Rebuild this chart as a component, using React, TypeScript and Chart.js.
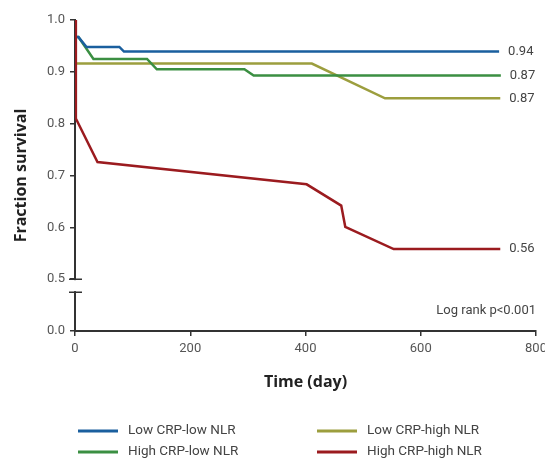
import React, { useEffect, useRef } from 'react';
import { Chart, registerables } from 'chart.js';

Chart.register(...registerables);

const seriesNames = ['Low CRP-low NLR', 'High CRP-low NLR', 'Low CRP-high NLR', 'High CRP-high NLR'];
const seriesColors = ['#1a5f9e', '#3b8f42', '#9c9e3e', '#9b1b1f'];
const endLabels = ['0.94', '0.87', '0.87', '0.56'];

const lowCrpLowNlrDays = [0, 0.5, 6, 20, 77, 85, 736];
const lowCrpLowNlrSurv = [1.0, 0.967, 0.967, 0.948, 0.948, 0.939, 0.939];
const highCrpLowNlrDays = [0, 0.5, 6, 32, 125, 142, 294, 310, 739];
const highCrpLowNlrSurv = [1.0, 0.967, 0.967, 0.925, 0.925, 0.905, 0.905, 0.893, 0.893];
const lowCrpHighNlrDays = [0, 0.5, 411, 538, 738];
const lowCrpHighNlrSurv = [1.0, 0.916, 0.916, 0.849, 0.849];
const highCrpHighNlrDays = [0, 1.5, 39, 402, 462, 469, 553, 738];
const highCrpHighNlrSurv = [1.0, 0.81, 0.726, 0.683, 0.642, 0.601, 0.558, 0.558];

const xTickValues = [0, 200, 400, 600, 800];
// The y axis is broken: the "0.0" tick sits one step below 0.5
const yTickValues = [0.4, 0.5, 0.6, 0.7, 0.8, 0.9, 1.0];
const yTickLabels = ['0.0', '0.5', '0.6', '0.7', '0.8', '0.9', '1.0'];
const breakUpper = 0.5;
const breakLower = 0.475;

const pValueText = 'Log rank p<0.001';
const xTitle = 'Time (day)';
const yTitle = 'Fraction survival';
// legend order: row 1 then row 2, two columns
const legendOrder = [0, 2, 1, 3];

const FONT = 'Roboto, "Noto Sans", sans-serif';
const TITLE_FONT = '"Open Sans", Roboto, sans-serif';

const allDays = [lowCrpLowNlrDays, highCrpLowNlrDays, lowCrpHighNlrDays, highCrpHighNlrDays];
const allSurv = [lowCrpLowNlrSurv, highCrpLowNlrSurv, lowCrpHighNlrSurv, highCrpHighNlrSurv];
const drawOrder = [1, 2, 3, 0];

const overlayPlugin = {
  id: 'overlay',
  afterDraw(chart: any) {
    const { ctx, chartArea, scales } = chart;
    const x = scales.x;
    const y = scales.y;
    ctx.save();
    // axis break
    const ax = chartArea.left;
    const yTop = y.getPixelForValue(breakUpper);
    const yBot = y.getPixelForValue(breakLower);
    ctx.fillStyle = '#ffffff';
    ctx.fillRect(ax - 3, yTop + 1, 6, yBot - yTop - 2);
    ctx.strokeStyle = '#333333';
    ctx.lineWidth = 1.5;
    ctx.beginPath();
    ctx.moveTo(ax - 6, yTop);
    ctx.lineTo(ax + 7, yTop);
    ctx.moveTo(ax - 6, yBot);
    ctx.lineTo(ax + 7, yBot);
    ctx.stroke();

    // end labels
    ctx.font = `13px ${FONT}`;
    ctx.fillStyle = '#444444';
    ctx.textAlign = 'left';
    ctx.textBaseline = 'middle';
    allDays.forEach((days, i) => {
      const surv = allSurv[i];
      const px = x.getPixelForValue(days[days.length - 1]);
      const py = y.getPixelForValue(surv[surv.length - 1]);
      ctx.fillText(endLabels[i], px + 9, py);
    });

    // p value
    ctx.textAlign = 'right';
    ctx.fillText(pValueText, chartArea.right, chartArea.bottom - 20);

    // legend
    const colX = [78, 317];
    const rowY = [431, 452];
    ctx.font = `13.5px ${FONT}`;
    ctx.textAlign = 'left';
    legendOrder.forEach((si, k) => {
      const lx = colX[k % 2];
      const ly = rowY[Math.floor(k / 2)];
      ctx.strokeStyle = seriesColors[si];
      ctx.lineWidth = 3;
      ctx.beginPath();
      ctx.moveTo(lx, ly);
      ctx.lineTo(lx + 40, ly);
      ctx.stroke();
      ctx.fillStyle = '#444444';
      ctx.fillText(seriesNames[si], lx + 50, ly);
    });
    ctx.restore();
  },
};

export default function App() {
  const ref = useRef<HTMLCanvasElement>(null);
  useEffect(() => {
    if (!ref.current) return;
    const datasets = allDays.map((days, i) => ({
      label: seriesNames[i],
      data: days.map((d, j) => ({ x: d, y: allSurv[i][j] })),
      borderColor: seriesColors[i],
      backgroundColor: seriesColors[i],
      borderWidth: 2.5,
      pointRadius: 0,
      fill: false,
      tension: 0,
      order: drawOrder[i],
    }));
    const chart = new Chart(ref.current, {
      type: 'line',
      data: { datasets },
      plugins: [overlayPlugin],
      options: {
        animation: false,
        responsive: false,
        layout: { padding: { left: 0, top: 20, right: 9, bottom: 0 } },
        plugins: { legend: { display: false }, tooltip: { enabled: false } },
        scales: {
          x: {
            type: 'linear',
            min: 0,
            max: 800,
            afterBuildTicks: (s: any) => {
              s.ticks = xTickValues.map((v) => ({ value: v }));
            },
            afterFit: (s: any) => {
              s.height = 129;
              s.paddingLeft = 0;
              s.paddingRight = 0;
            },
            ticks: {
              font: { family: FONT, size: 13 },
              color: '#555555',
              padding: 5,
              maxRotation: 0,
              callback: (v: any) => String(v),
            },
            grid: {
              display: true,
              drawOnChartArea: false,
              drawTicks: true,
              tickLength: 5,
              color: '#333333',
              lineWidth: 1.5,
            },
            border: { display: true, color: '#333333', width: 2 },
            title: {
              display: true,
              text: xTitle,
              font: { family: TITLE_FONT, size: 16, weight: 'bold' },
              color: '#222222',
              padding: { top: 0, bottom: 68 },
            },
          },
          y: {
            type: 'linear',
            min: 0.4,
            max: 1.0,
            afterBuildTicks: (s: any) => {
              s.ticks = yTickValues.map((v) => ({ value: v }));
            },
            afterFit: (s: any) => {
              s.width = 75;
              s.paddingTop = 0;
              s.paddingBottom = 0;
            },
            ticks: {
              font: { family: FONT, size: 13 },
              color: '#555555',
              padding: 5,
              callback: (_v: any, i: number) => yTickLabels[i],
            },
            grid: {
              display: true,
              drawOnChartArea: false,
              drawTicks: true,
              tickLength: 5,
              color: '#333333',
              lineWidth: 1.5,
            },
            border: { display: true, color: '#333333', width: 2 },
            title: {
              display: true,
              text: yTitle,
              font: { family: TITLE_FONT, size: 16, weight: 'bold' },
              color: '#222222',
              padding: { top: 12, bottom: 0 },
            },
          },
        },
      },
    });
    return () => chart.destroy();
  }, []);
  return (
    <div style={{ position: 'fixed', left: 0, top: 0, width: 545, height: 460 }}>
      <canvas ref={ref} width={545} height={460} style={{ display: 'block' }} />
    </div>
  );
}
